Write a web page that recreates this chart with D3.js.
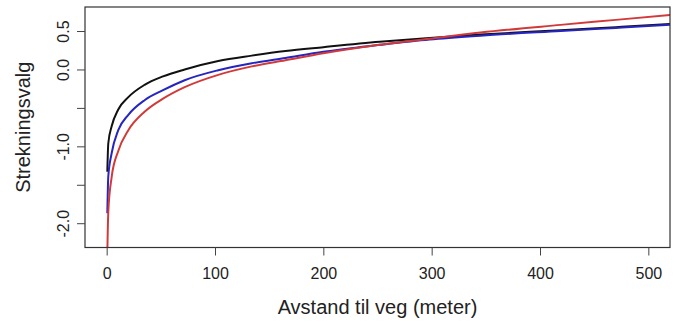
<!DOCTYPE html>
<html>
<head>
<meta charset="utf-8">
<script src="https://cdn.jsdelivr.net/npm/d3@7"></script>
<style>
  body { margin: 0; background: #fff; }
  svg { display: block; font-family: "Liberation Sans", Arial, sans-serif; }
</style>
</head>
<body>
<svg id="chart" width="676" height="322"></svg>
<script>
// distance to road (m) and the three fitted curves
const distance = [0.6, 1.5, 4.6, 10.7, 20, 35, 52, 72, 103, 134, 165, 200, 252, 298, 345, 419, 470, 520];
const black = [-1.33, -0.96, -0.74, -0.52, -0.36, -0.20, -0.09, 0.0, 0.11, 0.18, 0.24, 0.29, 0.36, 0.41, 0.455, 0.51, 0.55, 0.59];
const blue  = [-1.87, -1.39, -1.09, -0.79, -0.59, -0.40, -0.27, -0.14, -0.01, 0.08, 0.15, 0.23, 0.32, 0.39, 0.44, 0.50, 0.54, 0.58];
const red   = [-2.40, -1.85, -1.40, -1.06, -0.79, -0.55, -0.38, -0.23, -0.07, 0.04, 0.12, 0.21, 0.32, 0.40, 0.48, 0.58, 0.645, 0.71];

const xTicks = [0, 100, 200, 300, 400, 500];
const yTicks = [-2.0, -1.5, -1.0, -0.5, 0.0, 0.5];
const yTickLabels = ["-2.0", "", "-1.0", "", "0.0", "0.5"];

const SERIES = [
  { name: "black", values: black, color: "#111111" },
  { name: "blue",  values: blue,  color: "#2525c0" },
  { name: "red",   values: red,   color: "#d23a3a" },
];

const svg = d3.select("#chart");
const box = { left: 85, right: 670, top: 7, bottom: 247.5 };

const x = d3.scaleLinear().domain([-20, 520]).range([box.left, box.right]);
const y = d3.scaleLinear().domain([-2.316, 0.8125]).range([box.bottom, box.top]);

svg.append("clipPath").attr("id", "plot-clip")
  .append("rect")
    .attr("x", box.left).attr("y", box.top)
    .attr("width", box.right - box.left).attr("height", box.bottom - box.top);

// curves
const line = d3.line()
  .x((d) => x(d[0]))
  .y((d) => y(d[1]))
  .curve(d3.curveMonotoneX);

svg.append("g").attr("clip-path", "url(#plot-clip)")
  .selectAll("path")
  .data(SERIES)
  .enter().append("path")
    .attr("fill", "none")
    .attr("stroke", (d) => d.color)
    .attr("stroke-width", 2)
    .attr("d", (d) => line(distance.map((v, i) => [v, d.values[i]])));

// frame
svg.append("rect")
  .attr("x", box.left).attr("y", box.top)
  .attr("width", box.right - box.left).attr("height", box.bottom - box.top)
  .attr("fill", "none").attr("stroke", "#333").attr("stroke-width", 1.2);

// x axis
const xAxis = svg.append("g")
  .attr("transform", `translate(0,${box.bottom})`)
  .call(d3.axisBottom(x).tickValues(xTicks).tickSize(8).tickPadding(12).tickFormat(d3.format("d")));
xAxis.select(".domain").remove();
xAxis.selectAll("line").attr("stroke", "#444");
xAxis.selectAll("text").attr("font-size", 16).attr("fill", "#222")
  .attr("font-family", "Liberation Sans, Arial, sans-serif");

// y axis (labels rotated, R style)
const yAxis = svg.append("g")
  .attr("transform", `translate(${box.left},0)`)
  .call(d3.axisLeft(y).tickValues(yTicks).tickSize(8).tickFormat((d, i) => yTickLabels[i]));
yAxis.select(".domain").remove();
yAxis.selectAll("line").attr("stroke", "#444");
yAxis.selectAll("text")
  .attr("font-size", 16).attr("fill", "#222")
  .attr("font-family", "Liberation Sans, Arial, sans-serif")
  .attr("text-anchor", "middle")
  .attr("x", 0).attr("dy", null)
  .attr("transform", "translate(-22,0) rotate(-90)")
  .attr("y", 0)
  .attr("dominant-baseline", "central");

// axis titles
svg.append("text")
  .attr("x", (box.left + box.right) / 2)
  .attr("y", 314)
  .attr("text-anchor", "middle")
  .attr("font-size", 20)
  .attr("fill", "#222")
  .text("Avstand til veg (meter)");

svg.append("text")
  .attr("transform", `translate(30,${(box.top + box.bottom) / 2}) rotate(-90)`)
  .attr("text-anchor", "middle")
  .attr("font-size", 20)
  .attr("fill", "#222")
  .text("Strekningsvalg");
</script>
</body>
</html>
